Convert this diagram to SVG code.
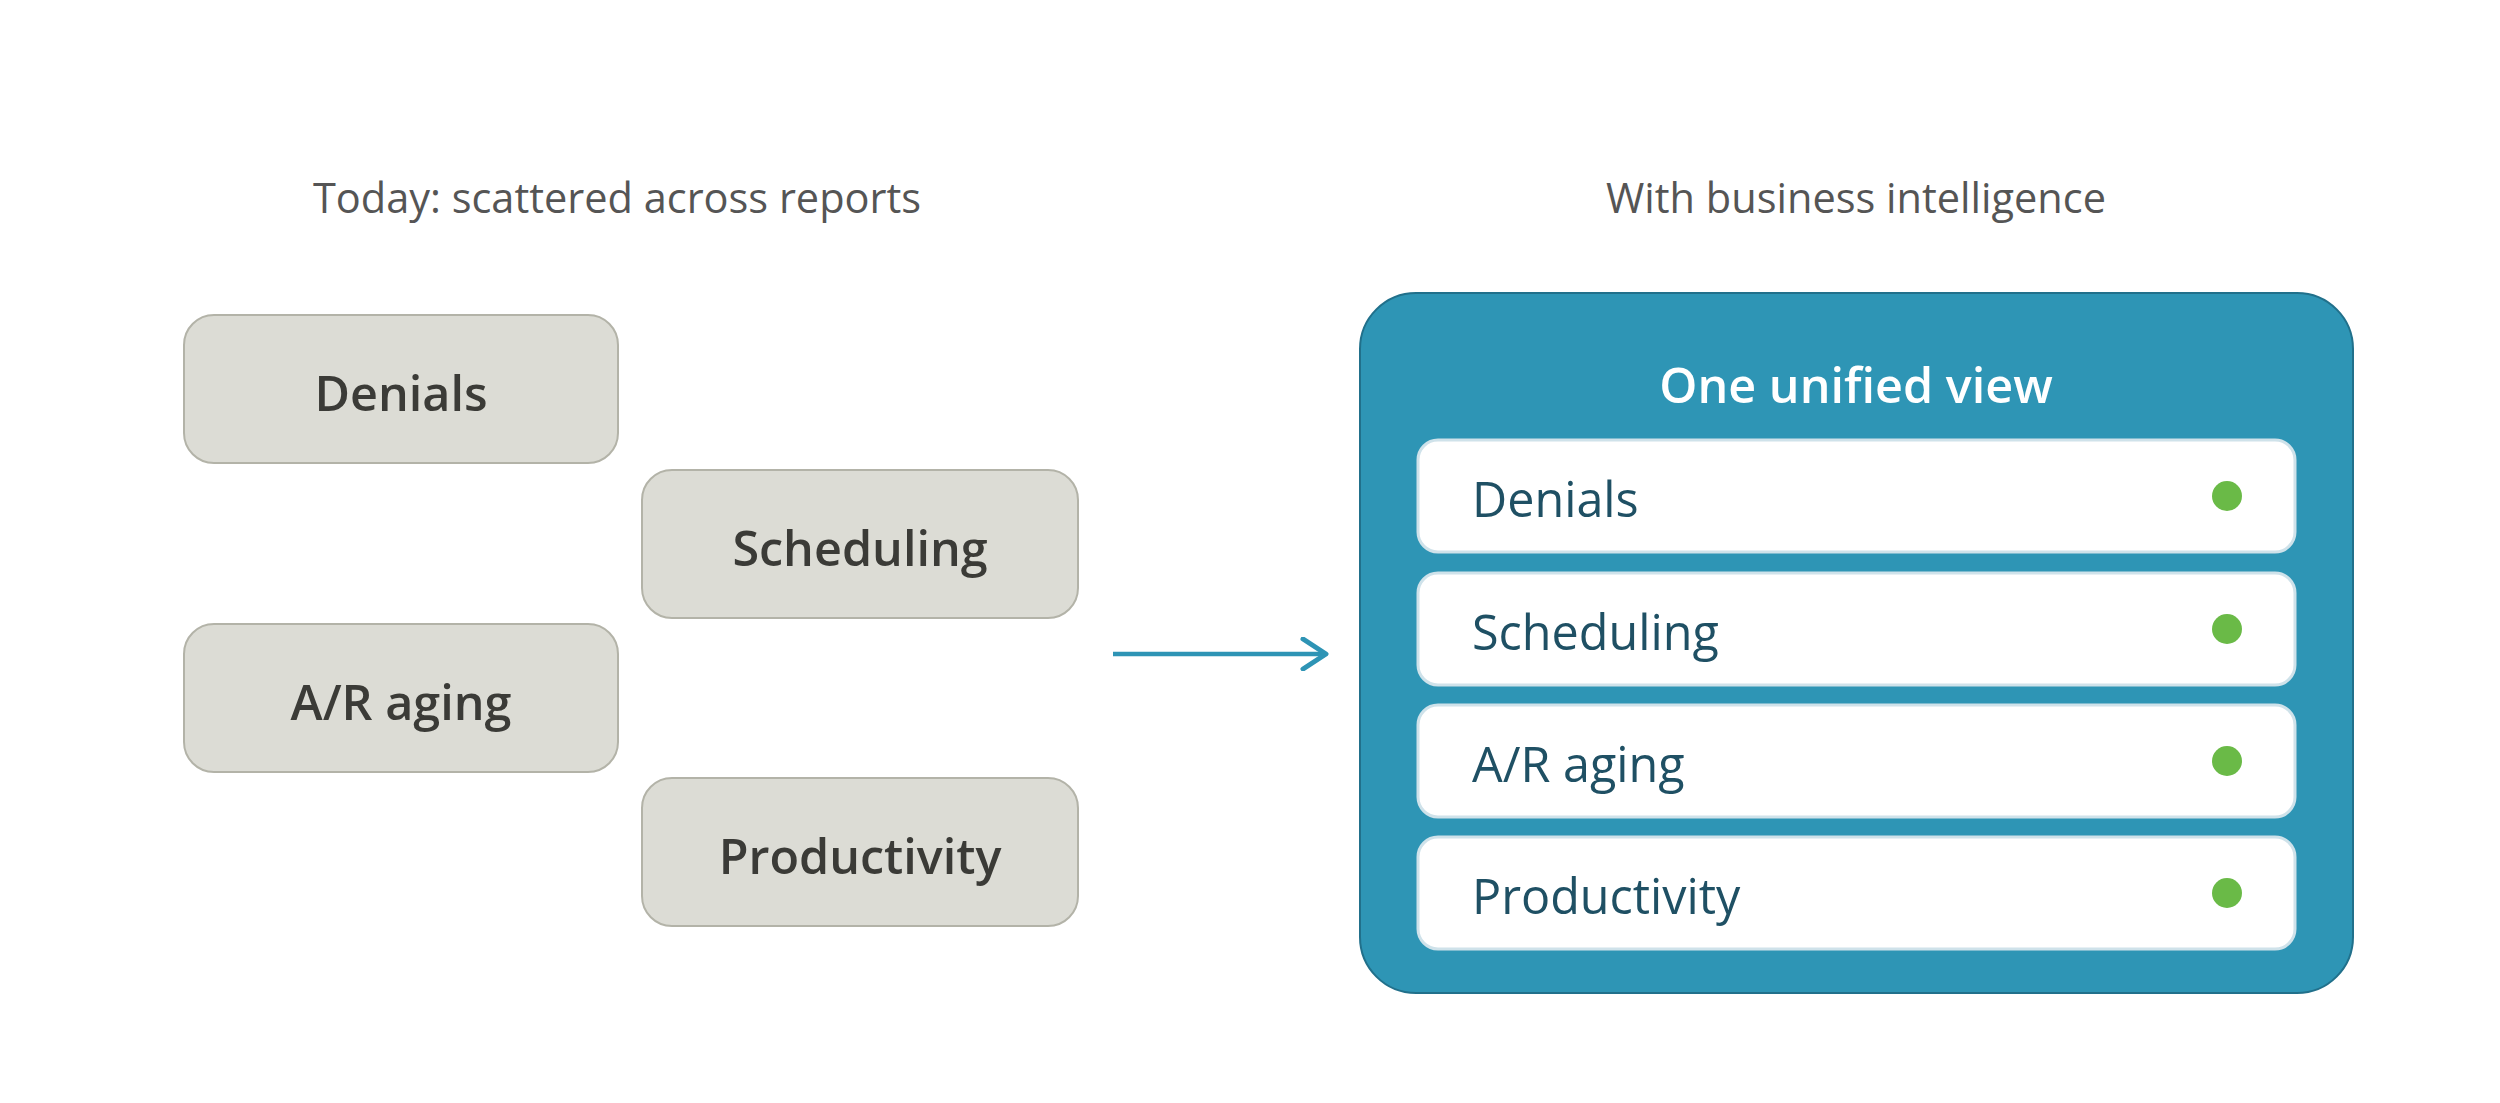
<svg xmlns="http://www.w3.org/2000/svg" width="2500" height="1103" viewBox="0 0 2500 1103">
<style>
.heading{font-family:"Open Sans","Noto Sans",sans-serif;font-size:41.5px;fill:#555555;text-anchor:middle}
.old rect{fill:#dcdcd5;stroke:#b3b3a8;stroke-width:2}
.old text{font-family:"Open Sans","Noto Sans",sans-serif;font-size:48.5px;font-weight:600;fill:#3b3b37;text-anchor:middle}
.row rect{fill:#ffffff;stroke:#cfe2ea;stroke-width:3}
.row text{font-family:"Open Sans","Noto Sans",sans-serif;font-size:48.5px;fill:#1f5064}
.row circle{fill:#6aba47}
.title{font-family:"Open Sans","Noto Sans",sans-serif;font-size:48.5px;font-weight:600;fill:#ffffff;text-anchor:middle}
</style>
<defs>
<marker id="arrow" viewBox="0 0 30 34" refX="26" refY="17" markerWidth="30" markerHeight="34" markerUnits="userSpaceOnUse" orient="auto">
<path d="M3 2 L26 17 L3 32" fill="none" stroke="#2e94b5" stroke-width="5" stroke-linecap="round" stroke-linejoin="round"/>
</marker>
</defs>
<rect width="2500" height="1103" fill="#ffffff"/>
<text class="heading" x="617" y="213">Today: scattered across reports</text>
<text class="heading" x="1856" y="213">With business intelligence</text>
<g id="old-denials" class="old"><rect x="184" y="315" width="434" height="148" rx="30"/><text x="401" y="411">Denials</text></g>
<g id="old-scheduling" class="old"><rect x="642" y="470" width="436" height="148" rx="30"/><text x="860" y="566">Scheduling</text></g>
<g id="old-araging" class="old"><rect x="184" y="624" width="434" height="148" rx="30"/><text x="401" y="720">A/R aging</text></g>
<g id="old-productivity" class="old"><rect x="642" y="778" width="436" height="148" rx="30"/><text x="860" y="874">Productivity</text></g>
<g id="connectors"><line x1="1113" y1="654" x2="1326" y2="654" stroke="#2e94b5" stroke-width="4.5" marker-end="url(#arrow)"/></g>
<g id="unified">
<rect x="1360" y="293" width="993" height="700" rx="56" fill="#2e95b5" stroke="#21708b" stroke-width="2"/>
<text class="title" x="1856" y="403">One unified view</text>
<g id="row-denials" class="row"><rect x="1418" y="440" width="877" height="112" rx="20"/><text x="1472" y="517">Denials</text><circle cx="2227" cy="496" r="15"/></g>
<g id="row-scheduling" class="row"><rect x="1418" y="573" width="877" height="112" rx="20"/><text x="1472" y="650">Scheduling</text><circle cx="2227" cy="629" r="15"/></g>
<g id="row-araging" class="row"><rect x="1418" y="705" width="877" height="112" rx="20"/><text x="1472" y="782">A/R aging</text><circle cx="2227" cy="761" r="15"/></g>
<g id="row-productivity" class="row"><rect x="1418" y="837" width="877" height="112" rx="20"/><text x="1472" y="914">Productivity</text><circle cx="2227" cy="893" r="15"/></g>
</g>
</svg>
